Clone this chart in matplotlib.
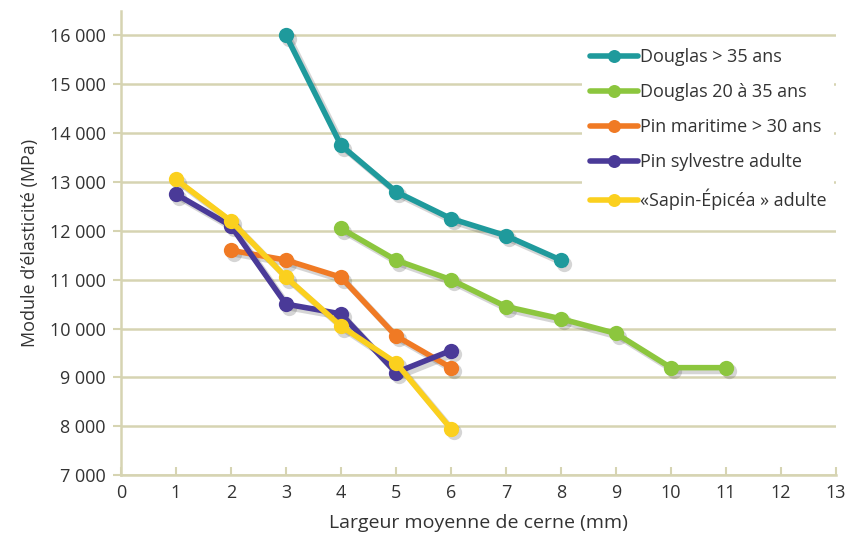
import matplotlib

matplotlib.use("Agg")
import matplotlib.pyplot as plt
import matplotlib.transforms as mtransforms
from matplotlib.ticker import FuncFormatter

plt.rcParams["font.family"] = ["Open Sans", "DejaVu Sans"]

X_DOUGLAS_VIEUX = [3, 4, 5, 6, 7, 8]
Y_DOUGLAS_VIEUX = [16000, 13750, 12800, 12250, 11900, 11400]

X_DOUGLAS_JEUNE = [4, 5, 6, 7, 8, 9, 10, 11]
Y_DOUGLAS_JEUNE = [12050, 11400, 11000, 10450, 10200, 9900, 9200, 9200]

X_PIN_MARITIME = [2, 3, 4, 5, 6]
Y_PIN_MARITIME = [11600, 11400, 11050, 9850, 9200]

X_PIN_SYLVESTRE = [1, 2, 3, 4, 5, 6]
Y_PIN_SYLVESTRE = [12750, 12100, 10500, 10300, 9100, 9550]

X_SAPIN = [1, 2, 3, 4, 5, 6]
Y_SAPIN = [13050, 12200, 11050, 10050, 9300, 7950]

SERIES = [
    ("Douglas > 35 ans", X_DOUGLAS_VIEUX, Y_DOUGLAS_VIEUX, "#1f9a9c"),
    ("Douglas 20 à 35 ans", X_DOUGLAS_JEUNE, Y_DOUGLAS_JEUNE, "#8cc63e"),
    ("Pin maritime > 30 ans", X_PIN_MARITIME, Y_PIN_MARITIME, "#f07a24"),
    ("Pin sylvestre adulte", X_PIN_SYLVESTRE, Y_PIN_SYLVESTRE, "#4a3a98"),
    ("«Sapin-Épicéa » adulte", X_SAPIN, Y_SAPIN, "#fbd01e"),
]

AXE_COULEUR = "#d6d4b2"
TEXTE_COULEUR = "#333333"

fig = plt.figure(figsize=(8.46, 5.40), dpi=100)
ax = fig.add_axes([0.143, 0.120, 0.845, 0.860])

# ombre portée : même série décalée de quelques points vers le bas à droite
decalage = mtransforms.offset_copy(ax.transData, fig=fig, x=2.5, y=-2.5, units="points")

for nom, xs, ys, couleur in SERIES:
    ax.plot(xs, ys, color="#444444", alpha=0.22, lw=4.5, marker="o", ms=11,
            markeredgewidth=0, transform=decalage, zorder=2)
    ax.plot(xs, ys, color=couleur, lw=4, marker="o", ms=11, markeredgewidth=0,
            label=nom, solid_capstyle="round", zorder=3)

ax.set_xlim(0, 13)
ax.set_ylim(7000, 16500)
ax.set_xticks(range(0, 14))
ax.set_yticks(range(7000, 16001, 1000))
ax.yaxis.set_major_formatter(FuncFormatter(lambda v, _: f"{int(v):,}".replace(",", " ")))

ax.grid(axis="y", color=AXE_COULEUR, lw=1.8, zorder=0)
for cote in ("top", "right"):
    ax.spines[cote].set_visible(False)
for cote in ("left", "bottom"):
    ax.spines[cote].set_color(AXE_COULEUR)
    ax.spines[cote].set_linewidth(1.8)

ax.tick_params(axis="y", direction="out", length=6, width=1.5, color=AXE_COULEUR,
               labelsize=13, labelcolor=TEXTE_COULEUR, pad=5)
ax.tick_params(axis="x", direction="in", length=6, width=1.5, color=AXE_COULEUR,
               labelsize=13, labelcolor=TEXTE_COULEUR, pad=6)

ax.set_xlabel("Largeur moyenne de cerne (mm)", fontsize=14, color=TEXTE_COULEUR, labelpad=9)
ax.set_ylabel("Module d’élasticité (MPa)", fontsize=13, color=TEXTE_COULEUR, labelpad=8)

leg = ax.legend(loc="upper right", bbox_to_anchor=(1.01, 0.955), fontsize=13,
                frameon=True, fancybox=False, edgecolor="none", facecolor="white",
                framealpha=1, handlelength=2.7, handletextpad=0.1, markerscale=0.85,
                labelspacing=0.95, borderpad=0.4)
for t in leg.get_texts():
    t.set_color(TEXTE_COULEUR)

fig.savefig("out.png", dpi=100)
